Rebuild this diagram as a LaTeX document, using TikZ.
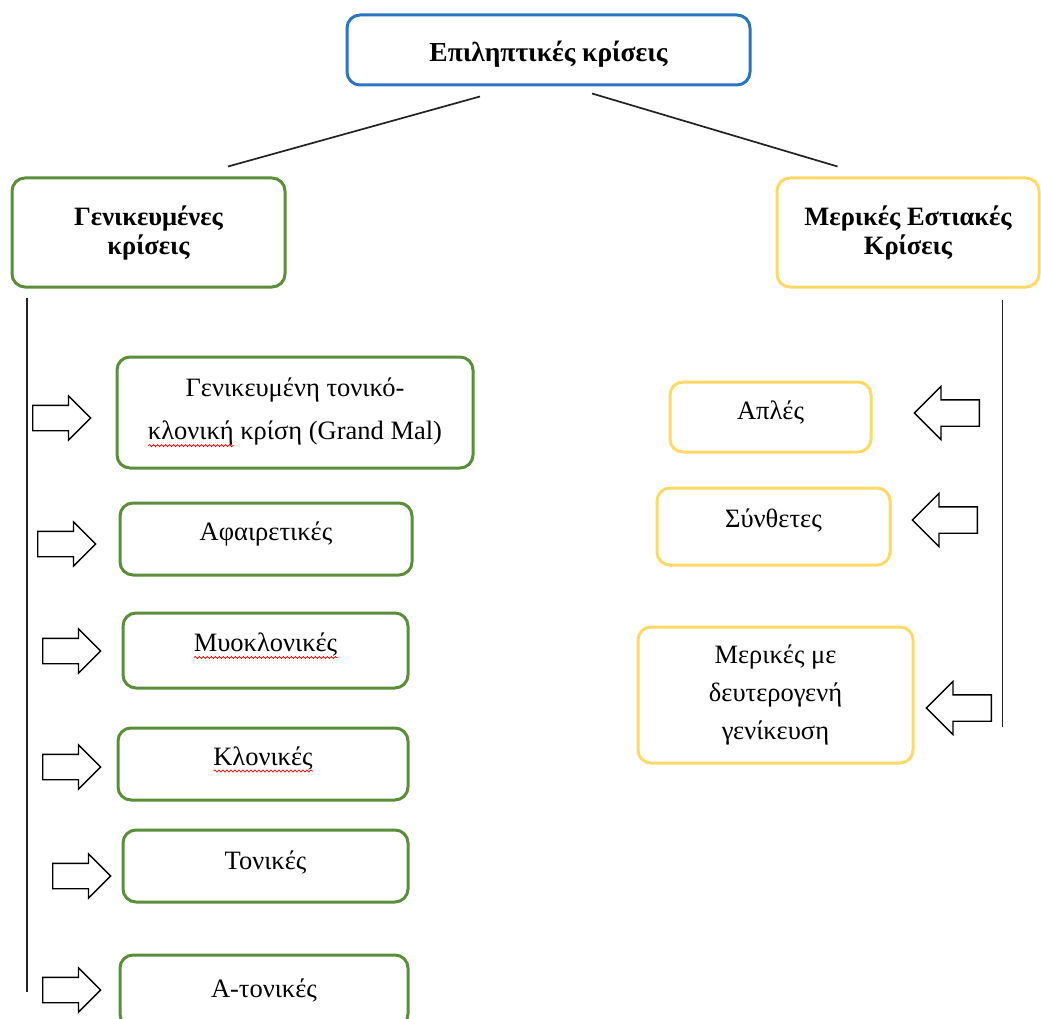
\documentclass[tikz,border=0pt]{standalone}
\usepackage{fontspec}
\setmainfont{Liberation Serif}
\usetikzlibrary{shapes.arrows,decorations.pathmorphing}
\definecolor{szBlue}{HTML}{2A74C0}
\definecolor{szGreen}{HTML}{5B8D3B}
\definecolor{szYellow}{HTML}{FFD966}
\definecolor{szLine}{HTML}{222222}
% red spell-check wave under a word
\newsavebox\wavebox
\newcommand\spellwave[1]{\sbox\wavebox{#1}\rlap{\raisebox{-6pt}{\tikz[baseline=0pt,x=1pt,y=1pt]\draw[red,sharp corners,line width=0.7pt,decorate,decoration={snake,amplitude=1.1pt,segment length=4pt}] (0pt,0pt) -- (\wd\wavebox,0pt);}}\usebox\wavebox}

\begin{document}
\begin{tikzpicture}[
  x=1pt,y=-1pt,
  font=\fontsize{26.5}{38}\selectfont,
  box/.style={draw,rounded corners=13pt,line width=3pt,align=center,fill=white,inner sep=2pt},
  genbox/.style={box,draw=szGreen,text height=19pt,text depth=17pt},
  focbox/.style={box,draw=szYellow},
  head/.style={font=\fontsize{26.5}{29}\selectfont\bfseries},
  rarr/.style={single arrow,draw,line width=1.3pt,inner xsep=0pt,inner ysep=12pt,single arrow head extend=9.5pt,minimum height=58,anchor=tail},
  larr/.style={rarr,shape border rotate=180,inner ysep=12.5pt,single arrow head extend=13.5pt,minimum height=65},
  link/.style={draw=szLine,line width=1.7pt}]
  \useasboundingbox (0,0) rectangle (1041,1019);
  \clip (0,0) rectangle (1041,1019);
  % headers
  \node[box,draw=szBlue,head,font=\fontsize{27.5}{30}\selectfont\bfseries,text height=31pt,text depth=7pt,minimum width=403,minimum height=70] (epi) at (548.5,50) {Επιληπτικές κρίσεις};
  \node[box,draw=szGreen,head,minimum width=273,minimum height=109] (gen) at (148.5,232.5) {Γενικευμένες\\κρίσεις};
  \node[focbox,head,minimum width=262,minimum height=109] (foc) at (908,232.5) {Μερικές Εστιακές\\Κρίσεις};
  \draw[link] ([shift={(-68.5,10)}]epi.south) -- ([shift={(79.5,-10)}]gen.north);
  \draw[link] ([shift={(43.5,7)}]epi.south) -- ([shift={(-70.5,-10)}]foc.north);
  % generalised
  \node[box,draw=szGreen,font=\fontsize{26.5}{43}\selectfont,minimum width=356,minimum height=111] (gtc) at (295,412.5) {Γενικευμένη τονικό-\\\spellwave{κλονική} κρίση (Grand Mal)};
  \node[genbox,minimum width=292,minimum height=72] (afa) at (266,539) {Αφαιρετικές};
  \node[genbox,minimum width=285,minimum height=75] (myo) at (265.5,650.5) {\spellwave{Μυοκλονικές}};
  \node[genbox,minimum width=290,minimum height=72] (klo) at (263,764) {\spellwave{Κλονικές}};
  \node[genbox,text depth=12pt,minimum width=285,minimum height=72] (ton) at (265.5,866) {Τονικές};
  \node[genbox,text depth=6pt,minimum width=288,minimum height=72] (aton) at (264,991) {Α-τονικές};
  \coordinate (lspine) at (27,298);
  \coordinate (lspineEnd) at (27,992);
  \draw[link] (lspine) -- (lspineEnd);
  \node[rarr] (a1) at (32,418) {};
  \node[rarr] (a2) at (37,544) {};
  \node[rarr] (a3) at (42,651) {};
  \node[rarr] (a4) at (42,767) {};
  \node[rarr] (a5) at (52,876) {};
  \node[rarr] (a6) at (42,990) {};
  % focal
  \node[focbox,text height=19pt,text depth=15pt,minimum width=201,minimum height=70] (apl) at (770.5,417) {Απλές};
  \node[focbox,text height=19pt,text depth=17pt,minimum width=233,minimum height=77] (syn) at (773.5,526.5) {Σύνθετες};
  \node[focbox,minimum width=275,minimum height=136] (mer) at (775.5,695) {Μερικές με\\δευτερογενή\\γενίκευση};
  \coordinate (rspine) at (1002.5,300);
  \coordinate (rspineEnd) at (1002.5,727);
  \draw[link] (rspine) -- (rspineEnd);
  \node[larr] (b1) at (980,413) {};
  \node[larr] (b2) at (978,520) {};
  \node[larr] (b3) at (992,708) {};
\end{tikzpicture}
\end{document}
